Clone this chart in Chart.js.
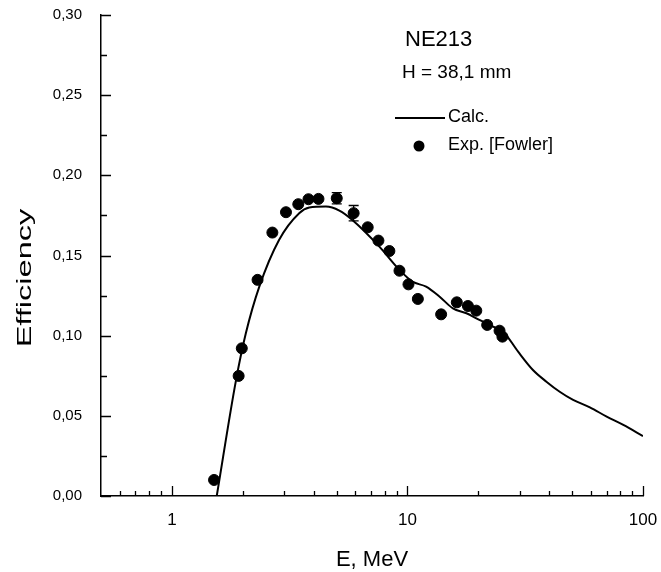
<!DOCTYPE html>
<html>
<head>
<meta charset="utf-8">
<script src="https://cdn.jsdelivr.net/npm/chart.js@4.4.0/dist/chart.umd.min.js"></script>
<style>
  html, body { margin: 0; padding: 0; background: #fff; overflow: hidden; }
  canvas { display: block; }
</style>
</head>
<body>
<canvas id="effChart" width="661" height="572"></canvas>
<script>
// calculated efficiency curve (E in MeV)
const calcE = [1.55, 1.87, 2.06, 2.35, 2.85, 3.47, 3.83, 4.51, 5.14, 5.85, 7.6, 9.25, 10.5, 12.0, 13.7, 15.6, 17.8, 20.2, 23.1, 25.5, 29.5, 34.1, 38.9, 44.3, 50.5, 59.5, 70.1, 82.5, 100];
const calcEff = [0, 0.072, 0.1015, 0.1306, 0.1597, 0.1764, 0.1799, 0.1805, 0.178, 0.172, 0.1555, 0.141, 0.1337, 0.1306, 0.1243, 0.117, 0.114, 0.1098, 0.1056, 0.1025, 0.090, 0.0786, 0.0713, 0.065, 0.0599, 0.0553, 0.0495, 0.0443, 0.0374];

// experimental points [Fowler]
const expE = [1.51, 1.92, 1.98, 2.31, 2.67, 3.05, 3.44, 3.80, 4.19, 5.01, 5.91, 6.78, 7.53, 8.38, 9.25, 10.1, 11.07, 13.9, 16.2, 18.06, 19.6, 21.8, 24.6, 25.3];
const expEff = [0.010, 0.0749, 0.0921, 0.1348, 0.1643, 0.177, 0.182, 0.1851, 0.1853, 0.1857, 0.1764, 0.1676, 0.1593, 0.1528, 0.1405, 0.132, 0.1229, 0.1133, 0.1208, 0.1185, 0.1156, 0.1067, 0.1031, 0.0994];
const expErr = [null, null, null, null, null, null, null, null, null, 0.0035, 0.0048, null, null, null, null, null, null, null, null, null, null, null, null, null];

// axis ticks
const xLabelTicks = [1, 10, 100];
const xMinorTicks = [0.6, 0.7, 0.8, 0.9, 2, 3, 4, 5, 6, 7, 8, 9, 20, 30, 40, 50, 60, 70, 80, 90];
const yLabelTicks = [0, 0.05, 0.10, 0.15, 0.20, 0.25, 0.30];
const yMinorTicks = [0.025, 0.075, 0.125, 0.175, 0.225, 0.275];

const font = "'Liberation Sans', Arial, sans-serif";

// inward tick marks, error bars, y title and the text block
const extras = {
  id: "extras",
  afterDatasetsDraw(chart) {
    const ctx = chart.ctx;
    const x = chart.scales.x;
    const y = chart.scales.y;
    const area = chart.chartArea;
    ctx.save();
    ctx.strokeStyle = "#000";
    ctx.lineWidth = 1.3;

    // error bars
    expErr.forEach((err, i) => {
      if (!err) return;
      const px = x.getPixelForValue(expE[i]);
      const top = y.getPixelForValue(expEff[i] + err);
      const bot = y.getPixelForValue(expEff[i] - err);
      ctx.beginPath();
      ctx.moveTo(px, top);
      ctx.lineTo(px, bot);
      ctx.moveTo(px - 5, top);
      ctx.lineTo(px + 5, top);
      ctx.moveTo(px - 5, bot);
      ctx.lineTo(px + 5, bot);
      ctx.stroke();
    });

    // ticks
    ctx.beginPath();
    xLabelTicks.forEach((v) => {
      const px = Math.round(x.getPixelForValue(v)) + 0.5;
      ctx.moveTo(px, area.bottom);
      ctx.lineTo(px, area.bottom - 10);
    });
    xMinorTicks.forEach((v) => {
      const px = Math.round(x.getPixelForValue(v)) + 0.5;
      ctx.moveTo(px, area.bottom);
      ctx.lineTo(px, area.bottom - 5);
    });
    yLabelTicks.forEach((v) => {
      const py = Math.round(y.getPixelForValue(v)) + 0.5;
      ctx.moveTo(area.left, py);
      ctx.lineTo(area.left + 10, py);
    });
    yMinorTicks.forEach((v) => {
      const py = Math.round(y.getPixelForValue(v)) + 0.5;
      ctx.moveTo(area.left, py);
      ctx.lineTo(area.left + 6, py);
    });
    ctx.stroke();

    // y axis title (stretched like the original)
    ctx.fillStyle = "#000";
    ctx.save();
    ctx.translate(25, 278);
    ctx.rotate(-Math.PI / 2);
    ctx.scale(1.55, 1);
    ctx.font = "21px " + font;
    ctx.textAlign = "center";
    ctx.textBaseline = "middle";
    ctx.fillText("Efficiency", 0, 0);
    ctx.restore();

    // text block
    ctx.textAlign = "left";
    ctx.textBaseline = "middle";
    ctx.font = "22px " + font;
    ctx.fillText("NE213", 405, 40);
    ctx.font = "19px " + font;
    ctx.fillText("H = 38,1 mm", 402, 73);

    ctx.font = "18px " + font;
    ctx.lineWidth = 2;
    ctx.beginPath();
    ctx.moveTo(395, 118);
    ctx.lineTo(445, 118);
    ctx.stroke();
    ctx.fillText("Calc.", 448, 117);
    ctx.beginPath();
    ctx.arc(419, 146, 5.5, 0, Math.PI * 2);
    ctx.fill();
    ctx.fillText("Exp. [Fowler]", 448, 145);
    ctx.restore();
  },
};

const ctx = document.getElementById("effChart").getContext("2d");
new Chart(ctx, {
  type: "scatter",
  data: {
    datasets: [
      {
        label: "Calc.",
        data: calcE.map((e, i) => ({ x: e, y: calcEff[i] })),
        showLine: true,
        borderColor: "#000",
        borderWidth: 2,
        pointRadius: 0,
        cubicInterpolationMode: "monotone",
        fill: false,
      },
      {
        label: "Exp. [Fowler]",
        data: expE.map((e, i) => ({ x: e, y: expEff[i] })),
        showLine: false,
        backgroundColor: "#000",
        borderColor: "#000",
        pointRadius: 5.5,
        pointHoverRadius: 5.5,
      },
    ],
  },
  options: {
    responsive: false,
    animation: false,
    devicePixelRatio: 1,
    layout: { padding: { top: 15, right: 18, left: 0, bottom: 0 } },
    plugins: {
      legend: { display: false },
      tooltip: { enabled: false },
    },
    scales: {
      x: {
        type: "logarithmic",
        min: 0.5,
        max: 100,
        afterBuildTicks: (scale) => {
          scale.ticks = xLabelTicks.map((v) => ({ value: v, major: true }));
        },
        afterFit: (scale) => {
          scale.height = 76;
          scale.paddingLeft = 0;
          scale.paddingRight = 14;
        },
        grid: { display: false, drawTicks: false },
        border: { display: true, color: "#000", width: 1.5 },
        ticks: {
          color: "#000",
          padding: 14,
          font: { family: font, size: 17 },
          maxRotation: 0,
          callback: (v) => String(v),
        },
        title: {
          display: true,
          text: "E, MeV",
          color: "#000",
          font: { family: font, size: 22 },
          padding: { top: 0, bottom: -1 },
        },
      },
      y: {
        min: 0,
        max: 0.3,
        afterBuildTicks: (scale) => {
          scale.ticks = yLabelTicks.map((v) => ({ value: v }));
        },
        afterFit: (scale) => {
          scale.width = 101;
          scale.paddingTop = 10;
          scale.paddingBottom = 10;
        },
        grid: { display: false, drawTicks: false },
        border: { display: true, color: "#000", width: 1.5 },
        ticks: {
          color: "#000",
          padding: 19,
          font: { family: font, size: 15 },
          callback: (v) => v.toFixed(2).replace(".", ","),
        },
      },
    },
  },
  plugins: [extras],
});
</script>
</body>
</html>
